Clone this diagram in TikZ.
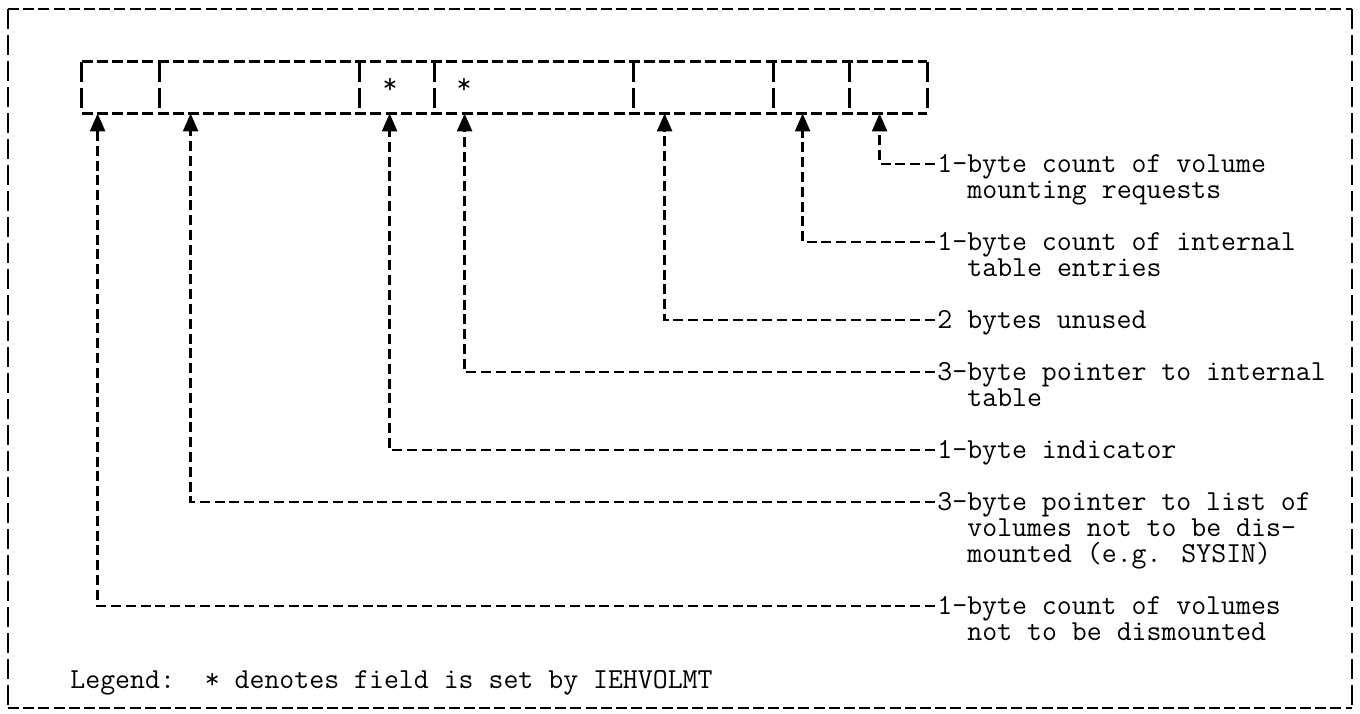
\documentclass[tikz,border=0pt]{standalone}
\usetikzlibrary{arrows.meta,calc,fit}
\begin{document}
\begin{tikzpicture}[x=0.5pt,y=-0.5pt,
  hdash/.style={line width=1.2pt, dash pattern=on 5.5pt off 2.1pt},
  vdash/.style={line width=1.2pt, dash pattern=on 10pt off 3pt},
  conn/.style={line width=1.2pt, dash pattern=on 5pt off 2.4pt},
  tip/.style={-{Triangle[length=9pt,width=7.5pt]}},
  lbl/.style={font=\ttfamily\fontsize{14.5}{14.5}\selectfont, inner sep=0pt, anchor=base west},
  field/.style={inner sep=0pt}]
\useasboundingbox (0,0) rectangle (1360,713);
% outer frame
\coordinate (fa) at (8,9);
\coordinate (fb) at (1352,9);
\coordinate (fc) at (1352,708);
\coordinate (fd) at (8,708);
\draw[hdash] (fa) -- (fb);
\draw[hdash] (fd) -- (fc);
\draw[vdash] (fa) -- (fd);
\draw[vdash] (fb) -- (fc);
% fields
\node[field, fit={(82,62)(159,113)}] (f1) {};
\node[field, fit={(159,62)(359,113)}] (f2) {};
\node[field, fit={(359,62)(434,113)}] (f3) {};
\node[field, fit={(434,62)(633,113)}] (f4) {};
\node[field, fit={(633,62)(773,113)}] (f5) {};
\node[field, fit={(773,62)(849,113)}] (f6) {};
\node[field, fit={(849,62)(927,113)}] (f7) {};
\draw[hdash] (f1.north west) -- (f7.north east);
\draw[hdash] (f1.south west) -- (f7.south east);
\draw[vdash] (f1.north west) -- (f1.south west);
\foreach \f in {f1,f2,f3,f4,f5,f6,f7}{
  \draw[vdash] (\f.north east) -- (\f.south east);
}
\node[lbl, anchor=center] (s3) at (390,86) {*};
\node[lbl, anchor=center] (s4) at (464,86) {*};
% label anchors
\coordinate (c7) at (935,164);
\coordinate (c6) at (935,242);
\coordinate (c5) at (935,320);
\coordinate (c4) at (935,372);
\coordinate (c3) at (935,450);
\coordinate (c2) at (935,502);
\coordinate (c1) at (935,606);
% labels
\node[lbl] (t7) at ($(c7)+(2,8)$) {1-byte count of volume};
\node[lbl] (t7b) at ($(t7.base west)+(30,26)$) {mounting requests};
\node[lbl] (t6) at ($(c6)+(2,8)$) {1-byte count of internal};
\node[lbl] (t6b) at ($(t6.base west)+(30,26)$) {table entries};
\node[lbl] (t5) at ($(c5)+(2,8)$) {2 bytes unused};
\node[lbl] (t4) at ($(c4)+(2,8)$) {3-byte pointer to internal};
\node[lbl] (t4b) at ($(t4.base west)+(30,26)$) {table};
\node[lbl] (t3) at ($(c3)+(2,8)$) {1-byte indicator};
\node[lbl] (t2) at ($(c2)+(2,8)$) {3-byte pointer to list of};
\node[lbl] (t2b) at ($(t2.base west)+(30,26)$) {volumes not to be dis-};
\node[lbl] (t2c) at ($(t2b.base west)+(0,26)$) {mounted (e.g. SYSIN)};
\node[lbl] (t1) at ($(c1)+(2,8)$) {1-byte count of volumes};
\node[lbl] (t1b) at ($(t1.base west)+(30,26)$) {not to be dismounted};
\node[lbl] (leg) at (70,688) {Legend:\ \ * denotes field is set by IEHVOLMT};
% connectors
\draw[conn,tip] (c7) -| ($(f7.south west)+(31,0)$);
\draw[conn,tip] (c6) -| ($(f6.south west)+(30,0)$);
\draw[conn,tip] (c5) -| ($(f5.south west)+(32,0)$);
\draw[conn,tip] (c4) -| ($(f4.south west)+(31,0)$);
\draw[conn,tip] (c3) -| ($(f3.south west)+(31,0)$);
\draw[conn,tip] (c2) -| ($(f2.south west)+(32,0)$);
\draw[conn,tip] (c1) -| ($(f1.south west)+(16,0)$);
\end{tikzpicture}
\end{document}
